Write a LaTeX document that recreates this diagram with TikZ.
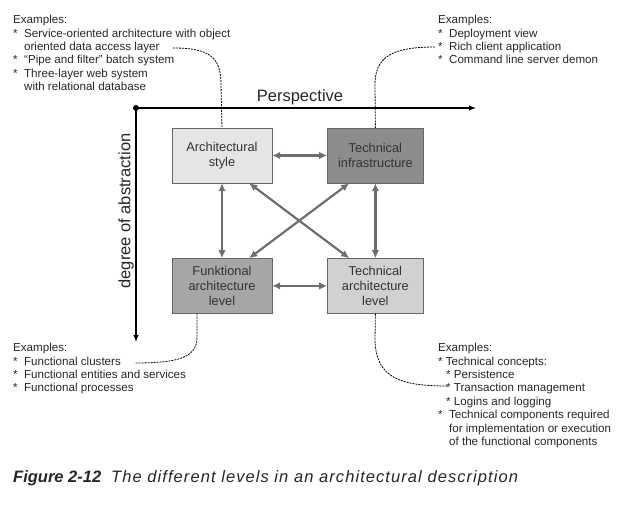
\documentclass[tikz,border=0pt]{standalone}
\usepackage{fontspec}
\setmainfont{Liberation Sans}
\newfontfamily\capfont[LetterSpace=6.5]{Liberation Sans}
\usetikzlibrary {arrows.meta}
\usetikzlibrary {positioning}

\begin{document}
\begin{tikzpicture} [
        x=1pt, y=-1pt,
        level/.style={draw=black!60, rectangle, minimum width=100pt, minimum height=55pt, inner sep=0pt, align=center, text=black!80, font=\fontsize{12.8}{15}\selectfont},
        link/.style={draw=black!57, line width=2.2pt, {Latex[length=8pt,width=7.5pt]}-{Latex[length=8pt,width=7.5pt]}},
        note/.style={anchor=north west, inner sep=0pt, align=left, text=black!85, font=\fontsize{11.6}{13.4}\selectfont},
        hint/.style={dash pattern=on 2pt off 1pt, line width=0.8pt},
        axis/.style={line width=1.1pt, -{Latex[length=7pt,width=5.5pt]}},
        title/.style={text=black!85, font=\fontsize{16.5}{18}\selectfont},
        node distance=75pt and 55pt ]
    \useasboundingbox (0,0) rectangle (621,505);
    \node[level, fill=black!10] (as) at (222,155.5) {Architectural\\style};
    \node[level, fill=black!45, minimum width=96pt, right=of as] (ti) {Technical\\infrastructure};
    \node[level, fill=black!35, below=of as] (fa) {Funktional\\architecture\\level};
    \node[level, fill=black!18, minimum width=96pt, right=of fa] (ta) {Technical\\architecture\\level};
    \draw[link] (as) -- (ti);
    \draw[link] (fa) -- (ta);
    \draw[link] (as) -- (fa);
    \draw[link] (ti) -- (ta);
    \draw[link] ([xshift=-23pt]as.south east) -- ([xshift=22pt]ta.north west);
    \draw[link] ([xshift=-23pt]fa.north east) -- ([xshift=22pt]ti.south west);
    \coordinate (o) at (136,108);
    \coordinate (xend) at (476,108);
    \coordinate (yend) at (136,342);
    \fill (o) circle (3pt);
    \draw[axis] (o) -- (xend);
    \draw[axis] (o) -- (yend);
    \node[title] (persp) at (300,97) {Perspective};
    \node[title, rotate=90] (abstr) at (126,211) {degree of abstraction};
    \node[note] (extl) at (13,15) {Examples:\\
        *\ \ Service-oriented architecture with object\\
        \phantom{*\ \ }oriented data access layer\\
        *\ \ ``Pipe and filter'' batch system\\
        *\ \ Three-layer web system\\
        \phantom{*\ \ }with relational database};
    \node[note] (extr) at (438,15) {Examples:\\
        *\ \ Deployment view\\
        *\ \ Rich client application\\
        *\ \ Command line server demon};
    \node[note] (exbl) at (13,343) {Examples:\\
        *\ \ Functional clusters\\
        *\ \ Functional entities and services\\
        *\ \ Functional processes};
    \node[note] (exbr) at (438,343) {Examples:\\
        * Technical concepts:\\
        \hspace{8pt}* Persistence\\
        \hspace{8pt}* Transaction management\\
        \hspace{8pt}* Logins and logging\\
        *\ \ Technical components required\\
        \phantom{*\ \ }for implementation or execution\\
        \phantom{*\ \ }of the functional components};
    \coordinate (tlend) at (173,48);
    \coordinate (trend) at (435,47);
    \coordinate (blend) at (135,363);
    \coordinate (brend) at (448,386);
    \draw[hint] (tlend) .. controls (211,48) and (221,58) .. (221,85) -- (as.north);
    \draw[hint] (trend) .. controls (390,47) and (375,58) .. (375,85) -- (ti.north);
    \draw[hint] ([xshift=-25pt]fa.south) -- (197,337) .. controls (197,357) and (180,363) .. (blend);
    \draw[hint] (ta.south) -- (375,340) .. controls (376,378) and (400,386) .. (brend);
    \node[anchor=west, inner sep=0pt, text=black!85, font=\fontsize{16.5}{18}\selectfont\itshape] (caption) at (13,478)
        {\textbf{Figure 2-12}\hspace{10pt}{\capfont\itshape The different levels in an architectural description}};
\end{tikzpicture}
\end{document}
